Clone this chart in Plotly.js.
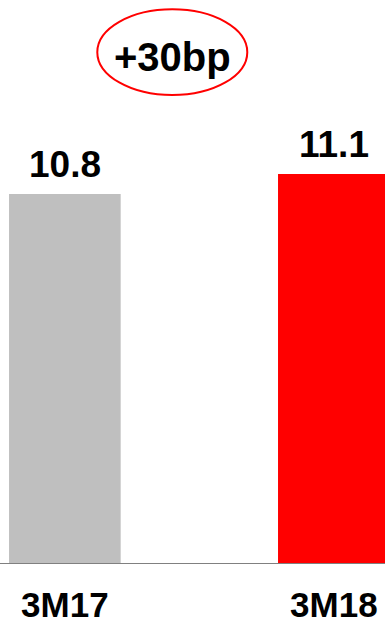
<!DOCTYPE html>
<html>
<head>
<meta charset="utf-8">
<script src="https://cdn.plot.ly/plotly-3.0.1.min.js"></script>
<style>
  html, body { margin: 0; padding: 0; background: #ffffff; }
  #chart { width: 385px; height: 623px; }
</style>
</head>
<body>
<div id="chart"></div>
<script>
// Period labels and their values
const categories = ['3M17', '3M18'];
const values = [10.8, 11.1];
const barColors = ['#bfbfbf', '#ff0000'];
const changeLabel = '+30bp';

const FONT = 'Liberation Sans, Arial, Helvetica, sans-serif';

const xPos = categories.map((_, i) => i);

const trace = {
  type: 'bar',
  x: xPos,
  y: values,
  width: 0.415,
  marker: { color: barColors, line: { width: 0 } },
  hoverinfo: 'skip'
};

// value labels above each bar
const valueNotes = values.map((v, i) => ({
  x: xPos[i],
  y: v,
  xref: 'x',
  yref: 'y',
  text: v.toFixed(1),
  showarrow: false,
  yanchor: 'bottom',
  yshift: 7,
  font: { family: FONT, size: 37, color: '#000000', weight: 'bold' }
}));

// change badge: ellipse outline with the text inside
const badgeNote = {
  x: 0.4475,
  y: 0.899,
  xref: 'paper',
  yref: 'paper',
  text: changeLabel,
  showarrow: false,
  xanchor: 'center',
  yanchor: 'middle',
  font: { family: FONT, size: 40, color: '#000000', weight: 'bold' }
};

const layout = {
  width: 385,
  height: 623,
  margin: { l: 0, r: 0, t: 0, b: 60 },
  paper_bgcolor: '#ffffff',
  plot_bgcolor: '#ffffff',
  showlegend: false,
  xaxis: {
    type: 'linear',
    range: [-0.2411, 1.1902],
    tickmode: 'array',
    tickvals: xPos,
    ticktext: categories,
    showgrid: false,
    zeroline: false,
    showline: true,
    linecolor: '#808080',
    linewidth: 1,
    ticks: '',
    ticklabelstandoff: 11,
    tickfont: { family: FONT, size: 35, color: '#000000', weight: 'bold' },
    fixedrange: true
  },
  yaxis: {
    range: [5.265, 13.71],
    visible: false,
    showgrid: false,
    zeroline: false,
    fixedrange: true
  },
  shapes: [{
    type: 'circle',
    xref: 'paper',
    yref: 'paper',
    x0: 0.2527,
    x1: 0.6423,
    y0: 0.8313,
    y1: 0.9835,
    line: { color: '#ff0000', width: 2 },
    fillcolor: 'rgba(0,0,0,0)'
  }],
  annotations: valueNotes.concat([badgeNote])
};

Plotly.newPlot('chart', [trace], layout, { displayModeBar: false, staticPlot: true });
</script>
</body>
</html>
